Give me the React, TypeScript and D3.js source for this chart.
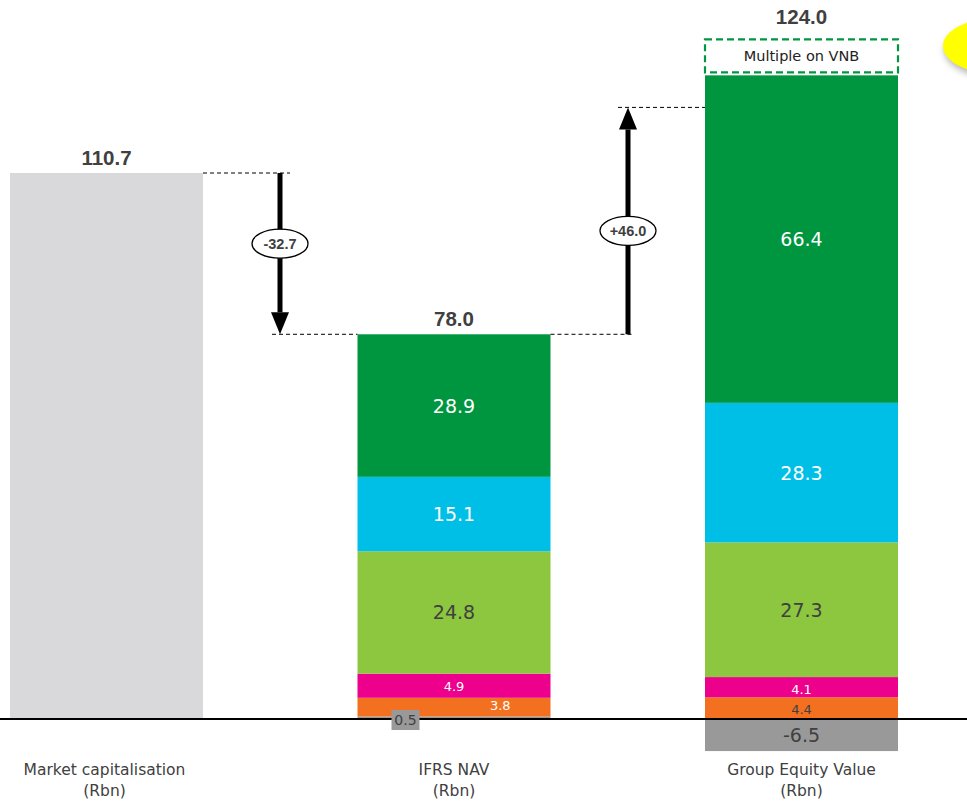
import React from "react";
import * as d3 from "d3";

const categories = ["Market capitalisation", "IFRS NAV", "Group Equity Value"];
const unitLabel = "(Rbn)";
const segmentKeys = ["s0", "s1", "s2", "s3", "s4", "s5"];
const segmentColors = ["#999999", "#F37021", "#EC008C", "#8DC63F", "#00BFE6", "#00963F"];
const marketCap = 110.7;
const ifrsNav = [0.5, 3.8, 4.9, 24.8, 15.1, 28.9];
const groupEquity = [-6.5, 4.4, 4.1, 27.3, 28.3, 66.4];
const totals = [110.7, 78.0, 124.0];
const bridgeLabels = ["-32.7", "+46.0"];
const boxLabel = "Multiple on VNB";

const W = 967;
const H = 801;

export default function App() {
  const x = d3.scaleBand<string>().domain(categories).range([10, 898]).paddingInner(0.4446).paddingOuter(0);
  const y = d3.scaleLinear().domain([0, 110.7]).range([719, 173]);
  const bw = x.bandwidth();

  const rows = [ifrsNav, groupEquity].map((vals, i) => {
    const o: any = { cat: categories[i + 1] };
    segmentKeys.forEach((k, j) => (o[k] = vals[j]));
    return o;
  });
  const stack = d3.stack<any>().keys(segmentKeys).offset(d3.stackOffsetDiverging);
  const series = stack(rows);

  const labelFont = "'DejaVu Sans', sans-serif";
  const boldFont = "'Liberation Sans', Arial, sans-serif";

  const segLabel = (val: number, j: number, catIdx: number) => {
    const abs = Math.abs(val);
    const small = abs < 6;
    let fill = "#ffffff";
    if (j === 3) fill = "#404040";
    if (j === 0) fill = "#404040";
    if (catIdx === 2 && j === 1) fill = "#404040";
    return { small, fill };
  };

  const mcX = x(categories[0])!;
  const navX = x(categories[1])!;
  const gevX = x(categories[2])!;
  const gevTop = y(d3.sum(groupEquity.filter((v) => v > 0)));
  const totalY = [y(totals[0]), y(totals[1]), gevTop];

  const arrow1X = 280;
  const arrow2X = 628;

  const Arrow = ({ xPos, y1, y2, label }: any) => {
    const dir = y2 > y1 ? 1 : -1;
    const headLen = 22;
    const headW = 9;
    const mid = xPos;
    const labelY = (y1 + y2) / 2 - (dir > 0 ? 10 : 0) + (dir < 0 ? 10 : 0);
    return (
      <g>
        <line x1={mid} x2={mid} y1={y1} y2={y2 - dir * headLen} stroke="#000" strokeWidth={5} />
        <path d={`M${mid - headW},${y2 - dir * headLen} L${mid + headW},${y2 - dir * headLen} L${mid},${y2} Z`} fill="#000" />
        <ellipse cx={mid} cy={labelY} rx={28} ry={14.5} fill="#fff" stroke="#000" strokeWidth={1.3} />
        <text x={mid} y={labelY + 5} textAnchor="middle" fontFamily={boldFont} fontWeight="bold" fontSize={14.5} fill="#404040">
          {label}
        </text>
      </g>
    );
  };

  // small label at bottom of IFRS NAV
  const tinyIdx = 0;
  const tinyVal = ifrsNav[tinyIdx];

  return (
    <svg width={W} height={H} style={{ position: "absolute", left: 0, top: 0 }}>
      <defs>
        <filter id="blur" x="-50%" y="-50%" width="200%" height="200%">
          <feGaussianBlur stdDeviation="3" />
        </filter>
      </defs>
      {/* yellow marker */}
      <ellipse cx={1000} cy={50} rx={56} ry={29} fill="#bbbbbb" filter="url(#blur)" />
      <ellipse cx={997} cy={46} rx={54} ry={28} fill="#FFFF00" />

      {/* market cap bar */}
      <rect x={mcX} y={y(marketCap)} width={bw} height={y(0) - y(marketCap)} fill="#D9D9DB" />

      {/* stacked bars */}
      {series.map((s, j) =>
        s.map((d, i) => {
          const cat = categories[i + 1];
          const x0 = x(cat)!;
          const top = y(d[1]);
          const bot = y(d[0]);
          return <rect key={`${j}-${i}`} x={x0} y={Math.min(top, bot)} width={bw} height={Math.abs(bot - top)} fill={segmentColors[j]} />;
        })
      )}

      {/* segment labels */}
      {series.map((s, j) =>
        s.map((d, i) => {
          const catIdx = i + 1;
          const val = (rows[i] as any)[segmentKeys[j]] as number;
          const x0 = x(categories[catIdx])!;
          const mid = (y(d[0]) + y(d[1])) / 2;
          const { small, fill } = segLabel(val, j, catIdx);
          if (catIdx === 1 && j === tinyIdx) return null;
          let tx = x0 + bw / 2;
          let ty = mid + (small ? 5 : 7);
          if (catIdx === 1 && j === 1) {
            tx = x0 + bw * 0.74;
            ty = mid + 3;
          }
          if (catIdx === 2 && j === 1) ty = mid + 6;
          if (catIdx === 2 && j === 2) ty = mid + 7;
          if (catIdx === 2 && j === 0) ty = mid + 7;
          return (
            <text key={`l${j}-${i}`} x={tx} y={ty} textAnchor="middle" fontFamily={labelFont} fontSize={small && j !== 0 ? 13 : 19} fill={fill}>
              {val.toFixed(1)}
            </text>
          );
        })
      )}

      {/* baseline */}
      <line x1={0} x2={W} y1={y(0)} y2={y(0)} stroke="#000" strokeWidth={2} />

      {/* tiny slice label with grey box (drawn over baseline) */}
      <g>
        <rect x={navX + 34} y={y(0) - 9} width={28} height={20} fill="#999999" />
        <text x={navX + 48} y={y(0) + 6} textAnchor="middle" fontFamily={labelFont} fontSize={14} fill="#404040">
          {tinyVal.toFixed(1)}
        </text>
      </g>

      {/* multiple on VNB box */}
      <rect x={gevX} y={gevTop - 36} width={bw} height={33} fill="#fff" stroke="#00963F" strokeWidth={2.2} strokeDasharray="7,4" />
      <text x={gevX + bw / 2} y={gevTop - 14} textAnchor="middle" fontFamily={labelFont} fontSize={14.5} fill="#222">
        {boxLabel}
      </text>

      {/* totals */}
      {[mcX, navX, gevX].map((bx, i) => (
        <text
          key={`t${i}`}
          x={bx + bw / 2}
          y={i === 2 ? gevTop - 51 : totalY[i] - 8}
          textAnchor="middle"
          fontFamily={boldFont}
          fontWeight="bold"
          fontSize={20.5}
          fill="#404040"
        >
          {totals[i].toFixed(1)}
        </text>
      ))}

      {/* dashed connectors */}
      <g stroke="#000" strokeWidth={1} strokeDasharray="4,3">
        <line x1={mcX + bw} x2={arrow1X + 10} y1={y(totals[0])} y2={y(totals[0])} />
        <line x1={arrow1X - 8} x2={navX} y1={y(totals[1])} y2={y(totals[1])} />
        <line x1={navX + bw} x2={arrow2X + 6} y1={y(totals[1])} y2={y(totals[1])} />
        <line x1={arrow2X - 10} x2={gevX} y1={y(totals[2])} y2={y(totals[2])} />
      </g>

      <Arrow xPos={arrow1X} y1={y(totals[0])} y2={y(totals[1])} label={bridgeLabels[0]} />
      <Arrow xPos={arrow2X} y1={y(totals[1])} y2={y(totals[2])} label={bridgeLabels[1]} />

      {/* category labels */}
      {categories.map((c, i) => (
        <g key={c}>
          <text x={x(c)! + bw / 2 - (i === 0 ? 2 : 0)} y={775} textAnchor="middle" fontFamily={labelFont} fontSize={15.5} fill="#404040">
            {c}
          </text>
          <text x={x(c)! + bw / 2 - (i === 0 ? 2 : 0)} y={796} textAnchor="middle" fontFamily={labelFont} fontSize={15.5} fill="#404040">
            {unitLabel}
          </text>
        </g>
      ))}
    </svg>
  );
}
